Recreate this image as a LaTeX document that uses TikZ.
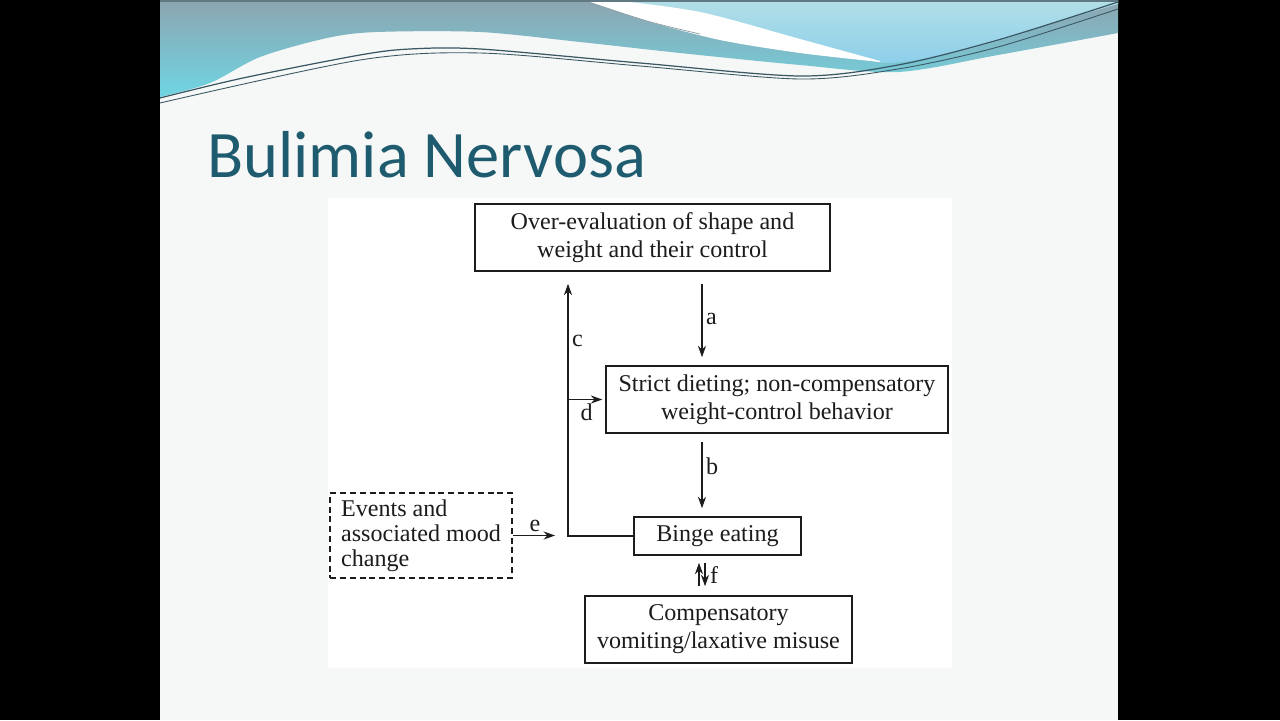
\documentclass[tikz,border=0pt]{standalone}
\usepackage{fontspec}
\setmainfont{Liberation Serif}
\newfontfamily\titlefont{Carlito}
\usepackage{xcolor}
\usetikzlibrary{arrows.meta, positioning, calc}

\definecolor{slidebg}{HTML}{F6F7F7}
\definecolor{titleteal}{HTML}{1E5B6F}
\definecolor{bandtop}{HTML}{8CA5B0}
\definecolor{bandcyan}{HTML}{6FD5E3}
\definecolor{skytop}{HTML}{B2DFE7}
\definecolor{skylow}{HTML}{8DCFEA}
\definecolor{waveline}{HTML}{3A5864}
\definecolor{ink}{HTML}{1C1C1C}

\begin{document}
\begin{tikzpicture}[
        x=0.02cm, y=-0.02cm,
        >={Stealth[length=6.5pt,width=4.6pt]},
        block/.style={draw=ink, line width=0.9pt, rectangle, inner sep=0pt,
            align=center, text=ink, minimum height=1.34cm,
            font=\fontsize{13.7}{16}\selectfont},
        dashblock/.style={block, dash pattern=on 3.4pt off 2.2pt, align=left,
            font=\fontsize{13.7}{14.2}\selectfont},
        line/.style={draw=ink, line width=0.75pt, ->},
        lab/.style={font=\fontsize{13.7}{15.6}\selectfont, text=ink, inner sep=2pt},
    ]
        \useasboundingbox (0,0) rectangle (1280,720);

        % slide and header wave
        \fill[black] (0,0) rectangle (1280,720);
        \fill[slidebg] (160,0) rectangle (1118,720);
        \shade[top color=bandtop, bottom color=bandcyan] (160,0) -- (1118,0)
            -- plot[smooth] coordinates {(1118,33) (998,55) (898,72) (800,65)
            (680,53) (580,42) (480,32) (377,32) (327,38) (260,57) (210,83) (160,97)}
            -- cycle;
        \shade[top color=skytop, bottom color=skylow] (600,0) -- (1118,0)
            -- plot[smooth] coordinates {(1118,4) (1060,21) (998,41) (940,56)
            (890,63) (860,58) (800,40) (700,13) (610,0)} -- cycle;
        \fill[white] plot[smooth] coordinates {(583,0) (647,21) (720,40) (800,53) (880,62)}
            -- plot[smooth] coordinates {(880,61) (800,39) (700,12) (612,0)} -- cycle;
        \draw[waveline!60, line width=0.4pt] plot[smooth] coordinates {(583,0) (647,21) (700,34)};
        \draw[waveline, line width=0.7pt] plot[smooth] coordinates {(160,98) (243,78)
            (360,55) (410,49) (480,49) (640,63) (800,76) (898,65) (998,40) (1118,2)};
        \draw[waveline, line width=0.5pt] plot[smooth] coordinates {(160,103) (360,60)
            (480,53) (640,66) (800,79) (898,69) (998,47) (1118,9)};
        \fill[waveline!80] (160,0) rectangle (1118,2);

        \node[anchor=base west, inner sep=0pt, text=titleteal,
            font=\titlefont\fontsize{37.8}{40}\selectfont] (title) at (207,177) {Bulimia Nervosa};

        % diagram
        \fill[white] (328,198) rectangle (952,668);

        \node[block, minimum width=7.1cm] (over) at (652.5,237.5)
            {Over-evaluation of shape and\\weight and their control};
        \node[block, minimum width=6.84cm] (diet) at (777,399.5)
            {Strict dieting; non-compensatory\\weight-control behavior};
        \node[block, minimum width=3.34cm, minimum height=0.76cm] (binge) at (717.5,536)
            {Binge eating};
        \node[block, minimum width=5.34cm] (comp) at (718.5,629.5)
            {Compensatory\\vomiting/laxative misuse};
        \node[dashblock, minimum width=3.64cm, minimum height=1.7cm] (events) at (421,535.5)
            {Events and\\associated mood\\change};

        \coordinate (ax) at (702,0);
        \coordinate (cx) at (568,0);
        \coordinate (fup) at (699,0);
        \coordinate (fdn) at (705,0);

        \path[line, shorten <=0.24cm, shorten >=0.16cm] (over.south -| ax)
            -- node[lab, right] {a} (diet.north -| ax);
        \path[line, shorten <=0.16cm, shorten >=0.16cm] (diet.south -| ax)
            -- node[lab, right, pos=0.4] {b} (binge.north -| ax);
        \path[line, shorten >=0.24cm] (binge.west) -- (binge.west -| cx)
            -- node[lab, right, pos=0.74] {c} (cx |- over.south);
        \path[line, shorten >=0.06cm] (diet.west -| cx) -- node[lab, below] {d} (diet.west);
        \path[line, shorten >=0.26cm] (events.east) -- node[lab, above, pos=0.4] {e} (events.east -| cx);
        \path[line, shorten <=0.18cm, shorten >=0.14cm] (comp.north -| fup) -- (binge.south -| fup);
        \path[line, shorten <=0.14cm, shorten >=0.18cm] (binge.south -| fdn)
            -- node[lab, right, xshift=0.02cm] {f} (comp.north -| fdn);
    \end{tikzpicture}
\end{document}
